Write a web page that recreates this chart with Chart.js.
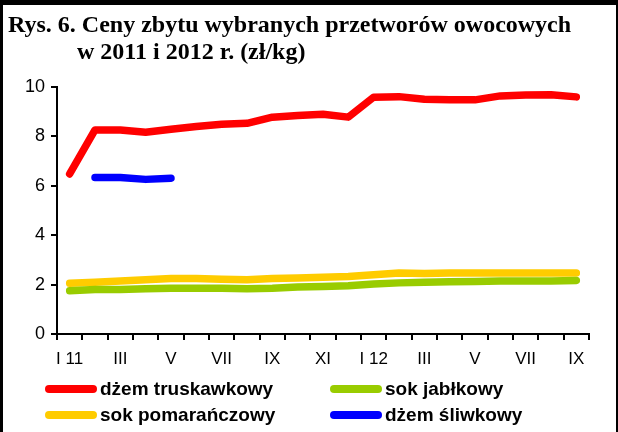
<!DOCTYPE html>
<html>
<head>
<meta charset="utf-8">
<script src="https://cdn.jsdelivr.net/npm/chart.js@4"></script>
<style>
  html, body { margin:0; padding:0; background:#fff; }
  #wrap { position:relative; width:618px; height:432px; overflow:hidden; background:#fff; }
  #c { position:absolute; left:0; top:0; }
  .frame { position:absolute; background:#000; }
  .title { position:absolute; font-family:"Liberation Serif","Times New Roman",serif; font-weight:bold; font-size:24px; line-height:24px; color:#000; white-space:nowrap; }
  .leg { position:absolute; height:26px; display:flex; align-items:center; font-family:"Liberation Sans",Arial,sans-serif; font-weight:bold; font-size:19px; color:#000; white-space:nowrap; }
  .leg .sw { width:52px; height:8px; border-radius:4px; margin-right:3px; }
</style>
</head>
<body>
<div id="wrap">
  <canvas id="c" width="618" height="432"></canvas>
  <div class="title" style="left:8px; top:12px;">Rys. 6. Ceny zbytu wybranych przetworów owocowych</div>
  <div class="title" style="left:77px; top:39px;">w 2011 i 2012 r. (zł/kg)</div>
  <div id="legend"></div>
  <div class="frame" style="left:0; top:0; width:3px; height:432px;"></div>
  <div class="frame" style="left:0; top:0; width:618px; height:5px;"></div>
  <div class="frame" style="left:616px; top:0; width:2px; height:432px;"></div>
</div>
<script>
// ---- data ----
const months = ['I 11','II','III','IV','V','VI','VII','VIII','IX','X','XI','XII',
                'I 12','II','III','IV','V','VI','VII','VIII','IX'];
const seriesNames = ['dżem truskawkowy','sok jabłkowy','sok pomarańczowy','dżem śliwkowy'];
const dzemTruskawkowy = [6.48,8.26,8.26,8.17,8.29,8.40,8.49,8.53,8.78,8.85,8.90,8.78,
                         9.59,9.61,9.50,9.48,9.48,9.64,9.68,9.69,9.60];
const sokJablkowy     = [1.75,1.80,1.80,1.83,1.85,1.85,1.85,1.83,1.85,1.90,1.92,1.95,
                         2.02,2.07,2.10,2.12,2.13,2.15,2.15,2.15,2.17];
const sokPomaranczowy = [2.05,2.10,2.15,2.20,2.25,2.25,2.22,2.20,2.25,2.27,2.30,2.33,
                         2.40,2.47,2.45,2.47,2.47,2.47,2.47,2.47,2.47];
const dzemSliwkowy    = [null,6.34,6.34,6.26,6.31,null,null,null,null,null,null,null,
                         null,null,null,null,null,null,null,null,null];
const yTicks = [0,2,4,6,8,10];

// ---- styles ----
const colors = ['#FF0000','#99CC00','#FFCC00','#0000FF'];
const values = [dzemTruskawkowy, sokJablkowy, sokPomaranczowy, dzemSliwkowy];

const datasets = values.map((v,i)=>({
  label: seriesNames[i],
  data: v,
  borderColor: colors[i],
  backgroundColor: colors[i],
  borderWidth: 7.5,
  borderCapStyle: 'round',
  borderJoinStyle: 'round',
  pointRadius: 0,
  pointHoverRadius: 0,
  tension: 0,
  spanGaps: false,
  fill: false,
  order: i === 0 ? 0 : 1
}));

new Chart(document.getElementById('c'), {
  type: 'line',
  data: { labels: months, datasets },
  options: {
    responsive: false,
    animation: false,
    events: [],
    layout: { padding: { top: 87, right: 29, bottom: 58, left: 0 } },
    plugins: { legend: { display:false }, title: { display:false }, tooltip: { enabled:false } },
    scales: {
      x: {
        type: 'category',
        offset: true,
        grid: { offset: true, drawOnChartArea: false, drawTicks: true, tickLength: 6, color:'#000', lineWidth: 2 },
        border: { display: true, color:'#000', width: 2 },
        ticks: {
          autoSkip: false, maxRotation: 0, minRotation: 0, padding: 9,
          color:'#000', font: { family:'"Liberation Sans", Arial, sans-serif', size: 17 },
          callback: function(val, idx) { return idx % 2 === 0 ? months[idx] : ''; }
        },
        afterFit: function(s) { s.height = 40; }
      },
      y: {
        min: 0, max: 10,
        afterBuildTicks: function(s) { s.ticks = yTicks.map(v=>({value:v})); },
        grid: { drawOnChartArea: false, drawTicks: true, tickLength: 6, color:'#000', lineWidth: 2 },
        border: { display: true, color:'#000', width: 2 },
        ticks: { padding: 6, color:'#000', font: { family:'"Liberation Sans", Arial, sans-serif', size: 18 } },
        afterFit: function(s) { s.width = 57; }
      }
    }
  }
});

// ---- HTML legend (two columns) ----
const legPos = [[45,376],[330,376],[45,402],[330,402]];
const legend = document.getElementById('legend');
seriesNames.forEach((n,i)=>{
  const d = document.createElement('div');
  d.className = 'leg';
  d.style.left = legPos[i][0] + 'px';
  d.style.top = legPos[i][1] + 'px';
  const sw = document.createElement('span');
  sw.className = 'sw';
  sw.style.background = colors[i];
  const t = document.createElement('span');
  t.textContent = n;
  d.appendChild(sw); d.appendChild(t);
  legend.appendChild(d);
});
</script>
</body>
</html>
